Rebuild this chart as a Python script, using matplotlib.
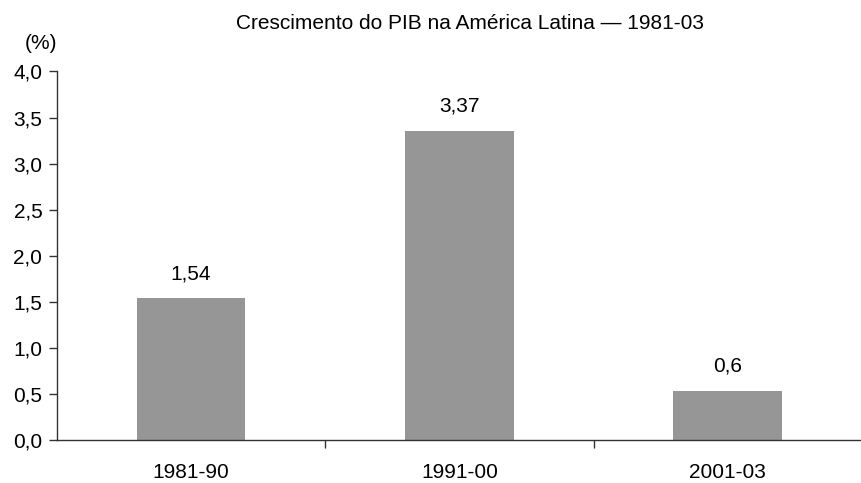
import matplotlib
matplotlib.use("Agg")
import matplotlib.pyplot as plt
from matplotlib.ticker import FuncFormatter

plt.rcParams['font.family'] = ['Liberation Sans', 'DejaVu Sans']

periodos = ['1981-90', '1991-00', '2001-03']
crescimento = [1.54, 3.36, 0.54]
rotulos = ['1,54', '3,37', '0,6']
y_ticks = [0.0, 0.5, 1.0, 1.5, 2.0, 2.5, 3.0, 3.5, 4.0]

fig = plt.figure(figsize=(8.62, 4.83), dpi=100)
ax = fig.add_axes([0.066, 0.088, 0.934, 0.764])

x = list(range(len(periodos)))
bars = ax.bar(x, crescimento, width=0.405, color='#969696', zorder=2)

for b, lab in zip(bars, rotulos):
    ax.annotate(lab, (b.get_x() + b.get_width() / 2, b.get_height()),
                xytext=(0, 11), textcoords='offset points',
                ha='center', va='bottom', fontsize=15)

ax.set_xlim(-0.5, 2.5)
ax.set_ylim(0, 4.0)
ax.set_yticks(y_ticks)
ax.yaxis.set_major_formatter(FuncFormatter(lambda v, p: f'{v:.1f}'.replace('.', ',')))
ax.set_xticks(x)
ax.set_xticklabels(periodos)
ax.set_xticks([0.5, 1.5], minor=True)
ax.tick_params(axis='x', which='major', length=0, pad=16, labelsize=15)
ax.tick_params(axis='x', which='minor', length=6, width=1, direction='out', color='#333333')
ax.tick_params(axis='y', length=5.5, width=1, direction='out', labelsize=15, pad=5, color='#333333')

for s in ['top', 'right']:
    ax.spines[s].set_visible(False)
for s in ['left', 'bottom']:
    ax.spines[s].set_color('#333333')
    ax.spines[s].set_linewidth(1)

fig.text(0.545, 0.952, 'Crescimento do PIB na América Latina — 1981-03',
         ha='center', va='center', fontsize=15)
fig.text(0.047, 0.91, '(%)', ha='center', va='center', fontsize=15)

fig.savefig('out.png', dpi=100)
